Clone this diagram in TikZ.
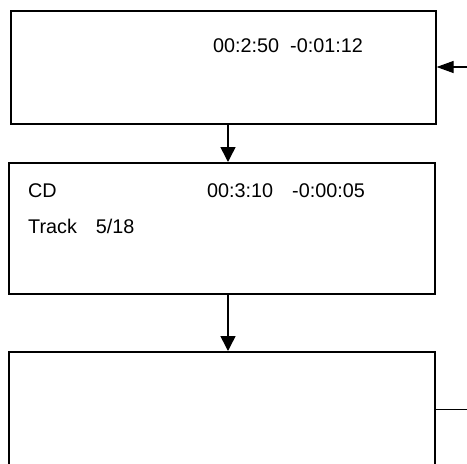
\documentclass[tikz,border=0pt]{standalone}
\usepackage{fontspec}
\setmainfont{Liberation Sans}
\usetikzlibrary{arrows.meta}

\begin{document}
\begin{tikzpicture}
  [x=1pt,y=-1pt,
   screen/.style={draw,rectangle,line width=1.6pt,anchor=north west,inner sep=0pt},
   txt/.style={anchor=base west,inner sep=0pt,font=\fontsize{19.8}{24}\selectfont},
   arr/.style={line width=1.6pt,-{Triangle[length=15pt,width=15pt]}}]

  \path[use as bounding box,clip] (0,0) rectangle (467,464);

  \node[screen,minimum width=425pt,minimum height=113pt] (s1) at (10,10) {};
  \node[screen,minimum width=426pt,minimum height=131pt] (s2) at (8,162) {};
  \node[screen,minimum width=426pt,minimum height=140pt] (s3) at (8,351) {};

  \node[txt] (time1) at (213,52) {00:2:50\ \ -0:01:12};
  \node[txt] (disc) at (28,197) {CD};
  \node[txt] (time2) at (207,197) {00:3:10\hspace{19pt}-0:00:05};
  \node[txt] (track) at (28,233) {Track\hspace{19pt}5/18};

  \coordinate (mid) at (228,0);
  \coordinate (feed) at (467,67);
  \coordinate (out) at (467,409);

  \foreach \from/\to in {s1/s2,s2/s3}
    \draw[arr] (\from.south -| mid) -- (\to.north -| mid);

  \draw[line width=1.2pt,-{Triangle[length=17pt,width=12pt]}] (feed) -- (feed -| s1.east);
  \draw[line width=0.8pt] (out -| s3.east) -- (out);
\end{tikzpicture}
\end{document}
